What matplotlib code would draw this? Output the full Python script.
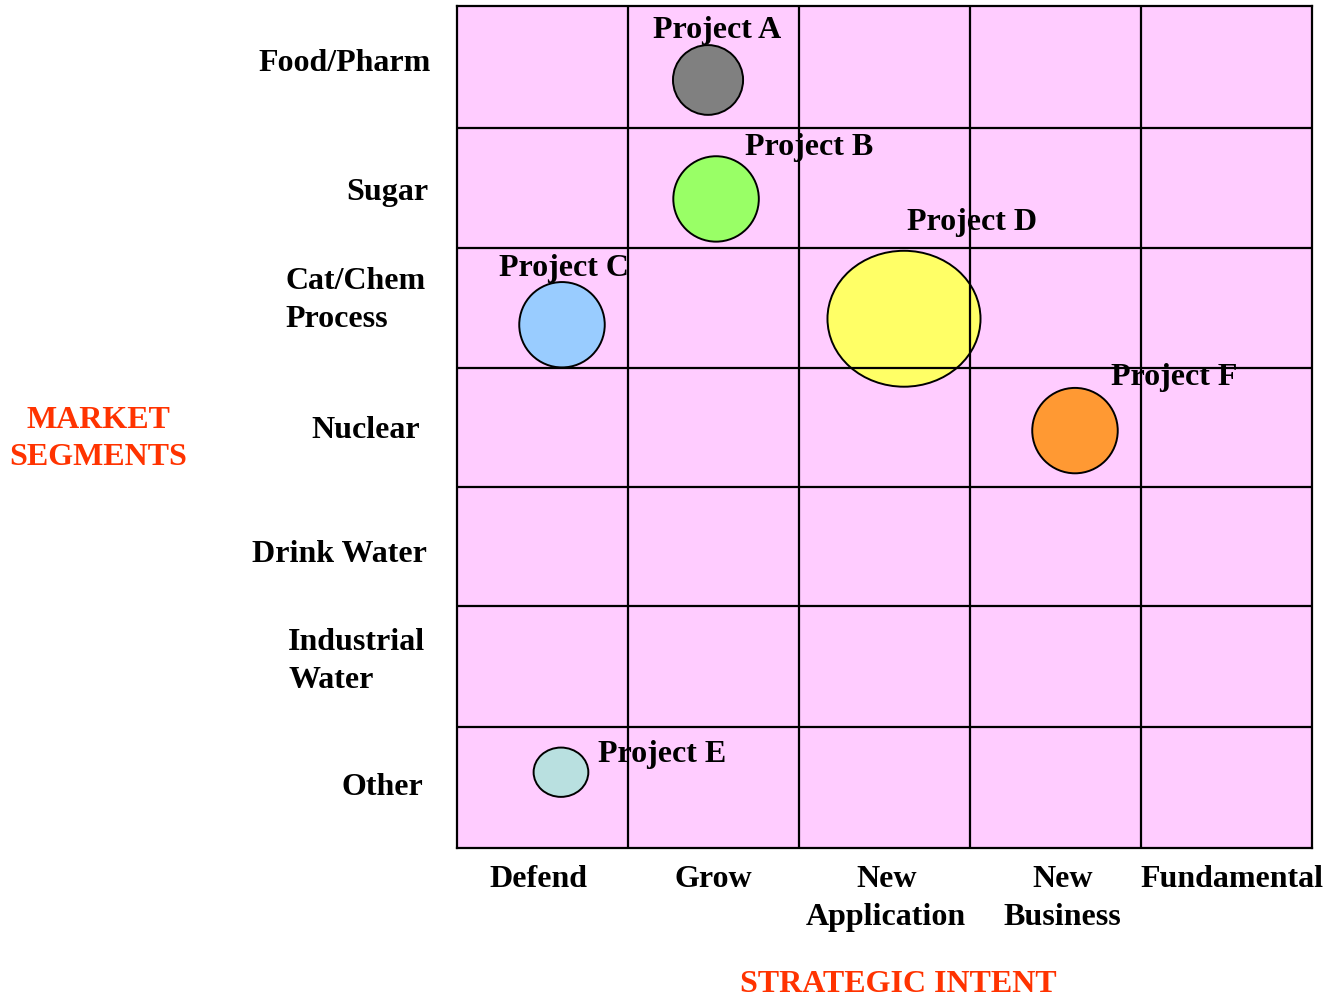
import matplotlib.pyplot as plt
from matplotlib.patches import Ellipse

plt.rcParams['font.family'] = ['Liberation Serif', 'DejaVu Serif']

segments = ['Food/Pharm', 'Sugar', 'Cat/Chem\nProcess', 'Nuclear',
            'Drink Water', 'Industrial\nWater', 'Other']
intents = ['Defend', 'Grow', 'New\nApplication', 'New\nBusiness', 'Fundamental']

projects = ['Project A', 'Project B', 'Project C', 'Project D', 'Project E', 'Project F']
proj_x = [1.468, 1.515, 0.614, 2.614, 0.608, 3.614]     # column units
proj_y = [0.615, 1.604, 2.65, 2.60, 6.37, 3.53]          # row units from top
proj_w = [0.41, 0.50, 0.50, 0.895, 0.32, 0.50]
proj_h = [0.58, 0.71, 0.71, 1.13, 0.41, 0.71]
proj_colors = ['#808080', '#99FF66', '#99CCFF', '#FFFF66', '#B9E0E0', '#FF9933']
label_x = [1.146, 1.684, 0.246, 2.632, 0.825, 3.825]
label_y = [0.20, 1.18, 2.18, 1.80, 6.22, 3.09]

fs = 23
fig = plt.figure(figsize=(13.25, 10), dpi=100)
ax = fig.add_axes([457/1325, 1 - 848/1000, 855/1325, 842/1000])
ax.set_facecolor('#FFCCFF')
ax.set_xlim(0, 5)
ax.set_ylim(7, 0)
ax.set_xticks([])
ax.set_yticks([])
for s in ax.spines.values():
    s.set_linewidth(1.6)
    s.set_zorder(10)

# bubbles
for i in range(len(projects)):
    e = Ellipse((proj_x[i], proj_y[i]), proj_w[i], proj_h[i],
                facecolor=proj_colors[i], edgecolor='black', linewidth=1.4, zorder=3)
    ax.add_patch(e)
    ax.text(label_x[i], label_y[i], projects[i], fontsize=fs, fontweight='bold',
            ha='left', va='center', zorder=4)

# grid lines on top
for c in range(1, 5):
    ax.axvline(c, color='black', linewidth=1.6, zorder=9)
for r in [1.013, 2.01, 3.007, 4.0, 4.99, 5.99]:
    ax.axhline(r, color='black', linewidth=1.6, zorder=9)

# row labels
seg_y = [0.48, 1.55, 2.45, 3.53, 4.56, 5.45, 6.5]
seg_x = [-0.155, -0.165, -0.185, -0.215, -0.175, -0.185, -0.2]
for i, name in enumerate(segments):
    ax.text(seg_x[i], seg_y[i], name, fontsize=fs, fontweight='bold',
            ha='right', va='center', multialignment='left', linespacing=1.4)

# column labels
col_x = [0.475, 1.5, 2.51, 3.54, 4.53]
for i, name in enumerate(intents):
    ax.text(col_x[i], 7.14, name, fontsize=fs, fontweight='bold',
            ha='center', va='top', linespacing=1.4)

fig.text(98/1325, 1 - 439/1000, 'MARKET\nSEGMENTS', color='#FF3300', fontsize=fs,
         fontweight='bold', ha='center', va='center', linespacing=1.4)
fig.text(898/1325, 1 - 984/1000, 'STRATEGIC INTENT', color='#FF3300', fontsize=fs,
         fontweight='bold', ha='center', va='center')

fig.savefig('out.png', dpi=100)
